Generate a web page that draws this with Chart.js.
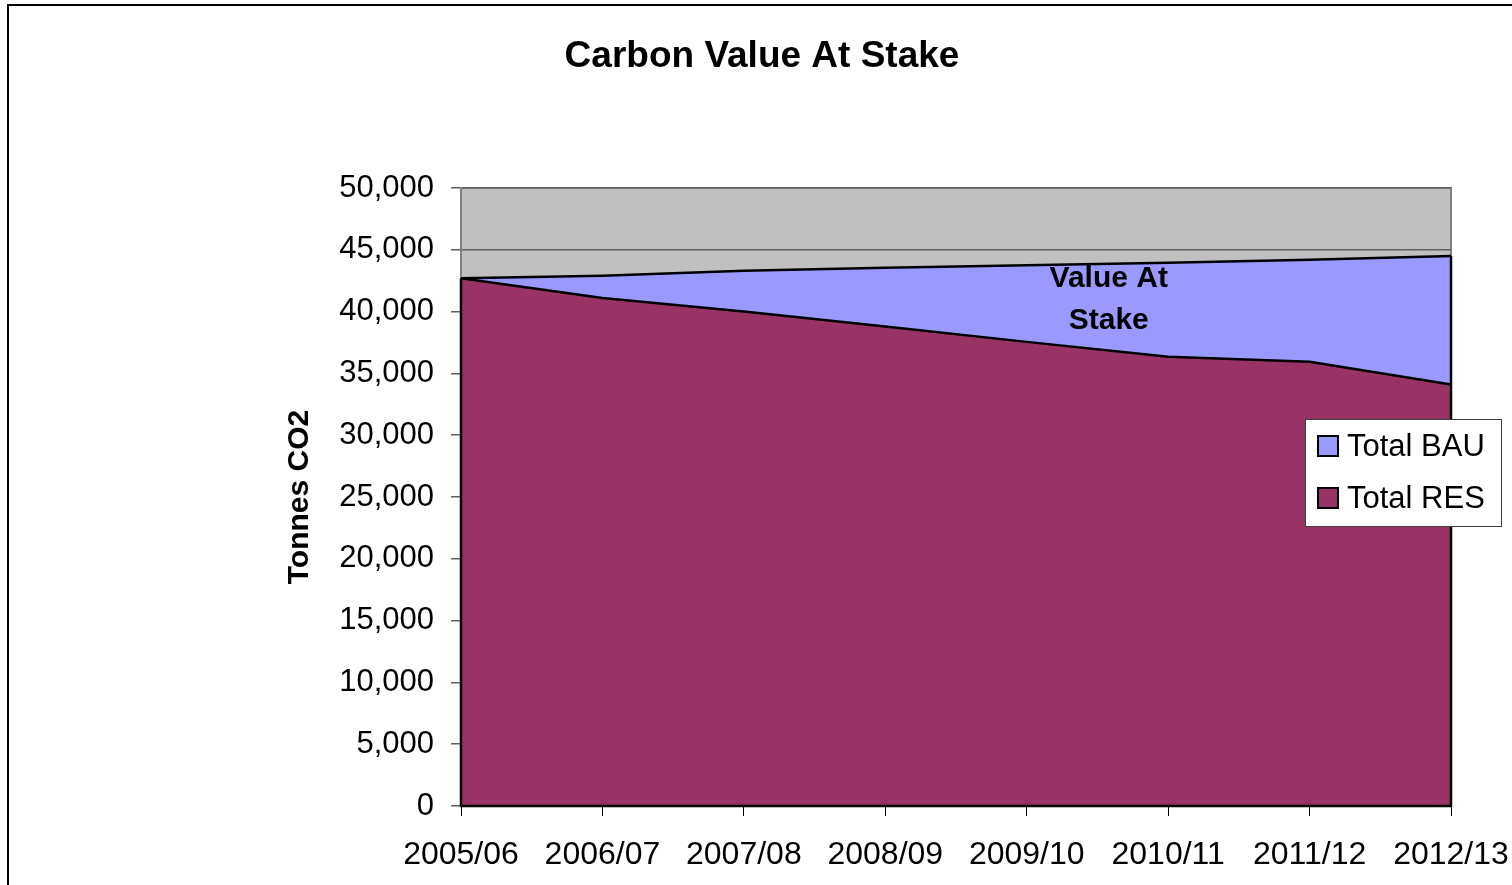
<!DOCTYPE html>
<html>
<head>
<meta charset="utf-8">
<title>Carbon Value At Stake</title>
<script src="https://cdn.jsdelivr.net/npm/chart.js@4.4.1/dist/chart.umd.min.js"></script>
<style>
  body { margin: 0; background: #fff; }
  canvas { display: block; }
</style>
</head>
<body>
<canvas id="myChart" width="1512" height="885"></canvas>
<script>
// data
var years = ['2005/06', '2006/07', '2007/08', '2008/09', '2009/10', '2010/11', '2011/12', '2012/13']
var totalBAU = [42700, 42900, 43300, 43550, 43750, 43950, 44200, 44500]
var totalRES = [42700, 41100, 40000, 38800, 37550, 36350, 35950, 34100]
var seriesNames = ['Total BAU', 'Total RES']
var seriesColors = ['#9999FF', '#993366']
var yTicks = [0, 5000, 10000, 15000, 20000, 25000, 30000, 35000, 40000, 45000, 50000]

var FONT = '"Liberation Sans", Arial, sans-serif'

// text inside the gap between the two areas (category index / value)
var stakeLabel = { x: 4.58, lines: [['Value At', 42650], ['Stake', 39250]] }

var framePlugin = {
    id: 'frame',
    beforeDraw: function(chart) {
        var ctx = chart.ctx
        var a = chart.chartArea
        ctx.save()
        ctx.fillStyle = '#ffffff'
        ctx.fillRect(0, 0, chart.width, chart.height)
        // outer border of the chart object
        ctx.strokeStyle = '#000000'
        ctx.lineWidth = 2
        ctx.strokeRect(8, 5, chart.width + 20, chart.height + 20)
        // grey plot background
        ctx.fillStyle = '#C0C0C0'
        ctx.fillRect(a.left, a.top, a.right - a.left, a.bottom - a.top)
        ctx.strokeStyle = '#808080'
        ctx.lineWidth = 2
        ctx.strokeRect(a.left, a.top, a.right - a.left, a.bottom - a.top)
        ctx.restore()
    },
    afterDatasetsDraw: function(chart) {
        var ctx = chart.ctx
        var xs = chart.scales.x
        var ys = chart.scales.y
        var last = years.length - 1
        ctx.save()
        ctx.strokeStyle = '#000000'
        ctx.lineWidth = 2.5
        ctx.beginPath()
        // left and right edges + base of the filled areas
        ctx.moveTo(xs.getPixelForValue(0), ys.getPixelForValue(totalRES[0]))
        ctx.lineTo(xs.getPixelForValue(0), ys.getPixelForValue(0))
        ctx.lineTo(xs.getPixelForValue(last), ys.getPixelForValue(0))
        ctx.lineTo(xs.getPixelForValue(last), ys.getPixelForValue(totalBAU[last]))
        ctx.stroke()

        // "Value At Stake"
        ctx.fillStyle = '#000000'
        ctx.font = 'bold 30px ' + FONT
        ctx.textAlign = 'center'
        ctx.textBaseline = 'middle'
        stakeLabel.lines.forEach(function(l) {
            ctx.fillText(l[0], xs.getPixelForValue(stakeLabel.x), ys.getPixelForValue(l[1]))
        })
        ctx.restore()
    },
    afterDraw: function(chart) {
        var ctx = chart.ctx
        ctx.save()
        // title
        ctx.fillStyle = '#000000'
        ctx.font = 'bold 37px ' + FONT
        ctx.textAlign = 'center'
        ctx.textBaseline = 'middle'
        ctx.fillText('Carbon Value At Stake', 762, 57)

        // legend
        ctx.fillStyle = '#ffffff'
        ctx.fillRect(1305, 419, 196, 107)
        ctx.strokeStyle = '#404040'
        ctx.lineWidth = 1
        ctx.strokeRect(1305.5, 419.5, 196, 107)
        ctx.font = '31px ' + FONT
        ctx.textAlign = 'left'
        for (var i = 0; i < seriesNames.length; i++) {
            var cy = 446 + i * 52
            ctx.fillStyle = seriesColors[i]
            ctx.fillRect(1318, cy - 10, 20, 20)
            ctx.strokeStyle = '#000000'
            ctx.lineWidth = 2
            ctx.strokeRect(1318, cy - 10, 20, 20)
            ctx.fillStyle = '#000000'
            ctx.fillText(seriesNames[i], 1347, cy + 1)
        }
        ctx.restore()
    }
}

var ctx = document.getElementById('myChart').getContext('2d')
var myChart = new Chart(ctx, {
    type: 'line',
    data: {
        labels: years,
        datasets: [{
            label: seriesNames[0],
            data: totalBAU,
            backgroundColor: seriesColors[0],
            borderColor: '#000000',
            borderWidth: 2.5,
            fill: '+1',
            tension: 0,
            pointRadius: 0,
        }, {
            label: seriesNames[1],
            data: totalRES,
            backgroundColor: seriesColors[1],
            borderColor: '#000000',
            borderWidth: 2.5,
            fill: 'origin',
            tension: 0,
            pointRadius: 0,
        }]
    },
    options: {
        responsive: false,
        animation: false,
        layout: {
            padding: { top: 188, right: 61, bottom: 0, left: 280 }
        },
        scales: {
            x: {
                offset: false,
                grid: {
                    drawOnChartArea: false,
                    drawTicks: true,
                    tickLength: 10,
                    color: '#000000',
                },
                border: { color: '#000000', width: 2 },
                ticks: {
                    color: '#000000',
                    font: { family: FONT, size: 32 },
                    padding: 20,
                    maxRotation: 0,
                    autoSkip: false,
                },
                afterFit: function(scale) {
                    scale.height = 79
                    scale.paddingLeft = 0
                    scale.paddingRight = 0
                }
            },
            y: {
                min: 0,
                max: 50000,
                afterBuildTicks: function(scale) {
                    scale.ticks = yTicks.map(function(v) { return { value: v } })
                },
                grid: {
                    color: '#606060',
                    lineWidth: 1.5,
                    tickLength: 10,
                },
                border: { color: '#808080', width: 2 },
                ticks: {
                    color: '#000000',
                    font: { family: FONT, size: 31 },
                    padding: 17,
                    callback: function(v) { return v.toLocaleString('en-US') }
                },
                title: {
                    display: true,
                    text: 'Tonnes CO2',
                    color: '#000000',
                    font: { family: FONT, size: 30, weight: 'bold' },
                    padding: 2,
                },
                afterFit: function(scale) { scale.width = 181 }
            }
        },
        plugins: {
            legend: { display: false },
            title: { display: false },
            tooltip: { enabled: false },
            filler: { drawTime: 'beforeDatasetsDraw' },
        },
    },
    plugins: [framePlugin]
});
</script>
</body>
</html>
